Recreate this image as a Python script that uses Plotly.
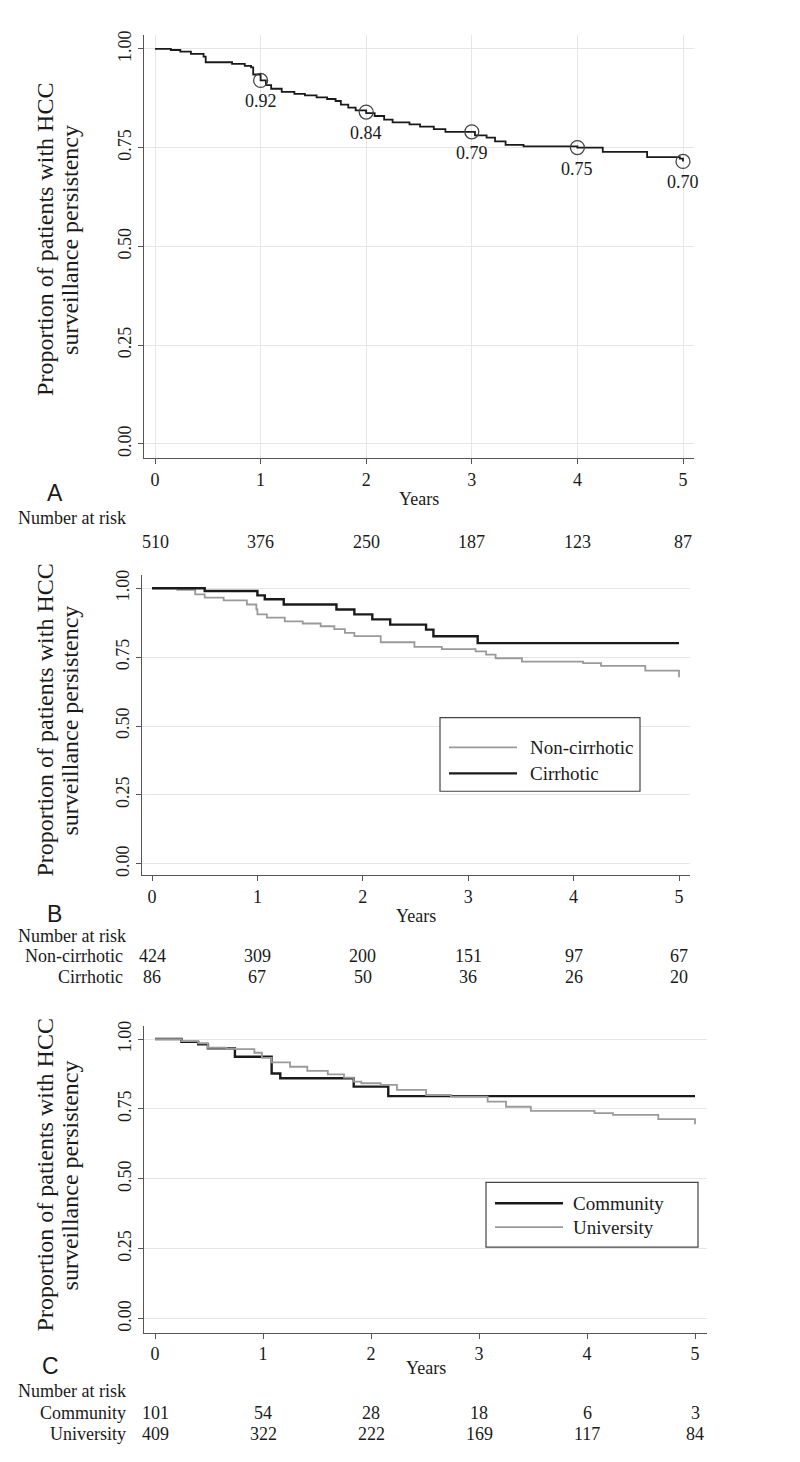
import plotly.graph_objects as go

W, H = 800, 1462

# ---------------- data ----------------
years = [0, 1, 2, 3, 4, 5]
year_labels = ["0", "1", "2", "3", "4", "5"]
y_ticks = [0, 0.25, 0.5, 0.75, 1.0]
y_tick_labels = ["0.00", "0.25", "0.50", "0.75", "1.00"]

# Panel A: overall KM
a_time = [0, 0.15, 0.24, 0.34, 0.46, 0.48, 0.73, 0.85, 0.91, 0.93, 1.00, 1.05, 1.10, 1.20, 1.32,
          1.42, 1.53, 1.63, 1.71, 1.76, 1.83, 1.90, 2.00, 2.08, 2.17, 2.25, 2.41, 2.51, 2.64,
          2.75, 3.03, 3.14, 3.22, 3.32, 3.49, 4.00, 4.24, 4.66, 4.97, 5.00]
a_surv = [1.0, 0.997, 0.993, 0.987, 0.980, 0.966, 0.962, 0.957, 0.953, 0.935, 0.920, 0.908, 0.899,
          0.891, 0.886, 0.882, 0.877, 0.873, 0.868, 0.859, 0.851, 0.844, 0.837, 0.830, 0.821,
          0.814, 0.809, 0.803, 0.797, 0.790, 0.781, 0.775, 0.766, 0.757, 0.753, 0.750, 0.739,
          0.726, 0.722, 0.715]
a_mark_time = [1, 2, 3, 4, 5]
a_mark_surv = [0.92, 0.84, 0.79, 0.75, 0.715]
a_mark_labels = ["0.92", "0.84", "0.79", "0.75", "0.70"]
a_risk = [510, 376, 250, 187, 123, 87]

# Panel B: cirrhosis
b_nc_time = [0, 0.24, 0.41, 0.50, 0.68, 0.90, 0.99, 1.00, 1.09, 1.26, 1.43, 1.60, 1.73, 1.83, 1.92,
             2.17, 2.49, 2.75, 3.07, 3.17, 3.26, 3.51, 4.09, 4.26, 4.68, 5.0]
b_nc_surv = [1.0, 0.994, 0.978, 0.966, 0.956, 0.941, 0.923, 0.905, 0.893, 0.880, 0.872, 0.862,
             0.852, 0.838, 0.826, 0.804, 0.787, 0.779, 0.771, 0.759, 0.746, 0.734, 0.728, 0.718,
             0.701, 0.677]
b_c_time = [0, 0.50, 1.00, 1.07, 1.25, 1.75, 1.92, 2.09, 2.26, 2.60, 2.67, 3.09, 5.0]
b_c_surv = [1.0, 0.990, 0.974, 0.960, 0.941, 0.923, 0.905, 0.887, 0.868, 0.850, 0.826, 0.801, 0.801]
b_names = ["Non-cirrhotic", "Cirrhotic"]
b_risk_nc = [424, 309, 200, 151, 97, 67]
b_risk_c = [86, 67, 50, 36, 26, 20]

# Panel C: site
c_com_time = [0, 0.245, 0.40, 0.49, 0.74, 1.08, 1.16, 1.84, 2.16, 5.0]
c_com_surv = [1.0, 0.990, 0.981, 0.967, 0.937, 0.877, 0.860, 0.830, 0.796, 0.796]
c_uni_time = [0, 0.245, 0.40, 0.49, 0.66, 0.74, 0.92, 0.99, 1.08, 1.25, 1.41, 1.60, 1.75, 1.84,
              1.91, 2.09, 2.24, 2.51, 2.74, 3.08, 3.25, 3.48, 4.07, 4.24, 4.66, 5.0]
c_uni_surv = [1.0, 0.993, 0.985, 0.969, 0.967, 0.964, 0.951, 0.933, 0.917, 0.901, 0.886, 0.874,
              0.862, 0.848, 0.842, 0.836, 0.818, 0.800, 0.794, 0.776, 0.758, 0.743, 0.735, 0.729,
              0.714, 0.695]
c_names = ["Community", "University"]
c_risk_com = [101, 54, 28, 18, 6, 3]
c_risk_uni = [409, 322, 222, 169, 117, 84]

y_title_lines = ["Proportion of patients with HCC", "surveillance persistency"]

# ---------------- styling helpers ----------------
SERIF = "Liberation Serif"
SANS = "Liberation Sans"
TXT = "#1a1a1a"
AXC = "#555555"
GRID = "#e6e6e6"
BLACK = "#1a1a1a"
GRAY = "#9a9a9a"
FS = 18


def px_x(px):
    return px / W


def px_y(py):
    return 1 - py / H


# panel geometry (pixels): left, right, top, bottom of axes; data anchor pixels
panels = {
    "A": dict(l=136, r=686, t=22, b=447, x0=147, x5=675, y1=36, y0=433, tc=228),
    "B": dict(l=134, r=682, t=565, b=866, x0=144, x5=671, y1=578, y0=855, tc=711),
    "C": dict(l=136, r=699, t=1018, b=1326, x0=147, x5=687, y1=1031, y0=1312, tc=1168),
}

fig = go.Figure()

layout_axes = {}
for i, key in enumerate(["A", "B", "C"]):
    p = panels[key]
    sx = (p["x5"] - p["x0"]) / 5.0
    sy = (p["y0"] - p["y1"]) / 1.0
    xr = [(p["l"] - p["x0"]) / sx, (p["r"] - p["x0"]) / sx]
    yr = [-(p["b"] - p["y0"]) / sy, 1 + (p["y1"] - p["t"]) / sy]
    sfx = "" if i == 0 else str(i + 1)
    layout_axes["xaxis" + sfx] = dict(
        domain=[px_x(p["l"]), px_x(p["r"])], range=xr, anchor="y" + sfx,
        tickvals=years, ticktext=year_labels, ticks="outside", ticklen=5, tickwidth=1.2,
        tickcolor=AXC, showline=True, linecolor=AXC, linewidth=1.3, zeroline=False,
        showgrid=(key == "A"), gridcolor=GRID, gridwidth=1,
        tickfont=dict(family=SERIF, size=FS, color=TXT), fixedrange=True,
    )
    layout_axes["yaxis" + sfx] = dict(
        domain=[px_y(p["b"]), px_y(p["t"])], range=yr, anchor="x" + sfx,
        tickvals=y_ticks, ticktext=y_tick_labels, tickangle=-90, ticks="outside", ticklen=5,
        tickwidth=1.2, tickcolor=AXC, showline=True, linecolor=AXC, linewidth=1.3,
        zeroline=False, showgrid=True, gridcolor=GRID, gridwidth=1,
        tickfont=dict(family=SERIF, size=FS, color=TXT), fixedrange=True,
    )

# ---------------- traces ----------------
fig.add_trace(go.Scatter(x=a_time, y=a_surv, mode="lines", line=dict(color=BLACK, width=1.8, shape="hv"),
                         xaxis="x", yaxis="y", showlegend=False))
fig.add_trace(go.Scatter(x=a_mark_time, y=a_mark_surv, mode="markers",
                         marker=dict(symbol="circle-open", size=14, color="#444444", line=dict(width=1.3)),
                         xaxis="x", yaxis="y", showlegend=False))

fig.add_trace(go.Scatter(x=b_nc_time, y=b_nc_surv, mode="lines", line=dict(color=GRAY, width=1.8, shape="hv"),
                         xaxis="x2", yaxis="y2", showlegend=False))
fig.add_trace(go.Scatter(x=b_c_time, y=b_c_surv, mode="lines", line=dict(color=BLACK, width=2.4, shape="hv"),
                         xaxis="x2", yaxis="y2", showlegend=False))

fig.add_trace(go.Scatter(x=c_com_time, y=c_com_surv, mode="lines", line=dict(color=BLACK, width=2.4, shape="hv"),
                         xaxis="x3", yaxis="y3", showlegend=False))
fig.add_trace(go.Scatter(x=c_uni_time, y=c_uni_surv, mode="lines", line=dict(color=GRAY, width=1.8, shape="hv"),
                         xaxis="x3", yaxis="y3", showlegend=False))

# ---------------- annotations ----------------
ann = []
shapes = []


def text_px(x, y, text, size=FS, family=SERIF, xanchor="center", angle=0):
    ann.append(dict(x=px_x(x), y=px_y(y), xref="paper", yref="paper", text=text, showarrow=False,
                    xanchor=xanchor, yanchor="middle", textangle=angle,
                    font=dict(family=family, size=size, color=TXT)))


# circle value labels (panel A)
for t, s, lab in zip(a_mark_time, a_mark_surv, a_mark_labels):
    ann.append(dict(x=t, y=s, xref="x", yref="y", text=lab, showarrow=False, yshift=-21,
                    font=dict(family=SERIF, size=FS, color=TXT)))

# y-axis titles (two lines each)
for key in ["A", "B", "C"]:
    p = panels[key]
    text_px(37, p["tc"], y_title_lines[0], size=24, angle=-90)
    text_px(62, p["tc"], y_title_lines[1], size=24, angle=-90)

# x titles, letters, number-at-risk
text_px(411, 488, "Years")
text_px(408, 907, "Years")
text_px(418, 1362, "Years")
text_px(47, 482, "A", size=23, family=SANS)
text_px(46, 905, "B", size=23, family=SANS)
text_px(42, 1360, "C", size=23, family=SANS)
text_px(8, 507, "Number at risk", xanchor="left")
text_px(8, 927, "Number at risk", xanchor="left")
text_px(8, 1385, "Number at risk", xanchor="left")


def risk_row(xref, vals, ypx):
    for t, v in zip(years, vals):
        ann.append(dict(x=t, y=px_y(ypx), xref=xref, yref="paper", text=str(v), showarrow=False,
                        yanchor="middle", font=dict(family=SERIF, size=FS, color=TXT)))


risk_row("x", a_risk, 532)
text_px(117, 948, b_names[0], xanchor="right")
text_px(117, 969, b_names[1], xanchor="right")
risk_row("x2", b_risk_nc, 948)
risk_row("x2", b_risk_c, 969)
text_px(120, 1407, c_names[0], xanchor="right")
text_px(120, 1428, c_names[1], xanchor="right")
risk_row("x3", c_risk_com, 1407)
risk_row("x3", c_risk_uni, 1428)


# legends (drawn as boxes)
def legend_box(x0, x1, y0, y1, items):
    shapes.append(dict(type="rect", xref="paper", yref="paper", x0=px_x(x0), x1=px_x(x1),
                       y0=px_y(y1), y1=px_y(y0), line=dict(color="#444444", width=1.2),
                       fillcolor="white", layer="above"))
    for (name, color, width, ly, lx0, lx1, tx) in items:
        shapes.append(dict(type="line", xref="paper", yref="paper", x0=px_x(lx0), x1=px_x(lx1),
                           y0=px_y(ly), y1=px_y(ly), line=dict(color=color, width=width), layer="above"))
        text_px(tx, ly, name, size=19, xanchor="left")


legend_box(432, 632, 708, 782, [
    (b_names[0], GRAY, 1.8, 738, 441, 509, 520),
    (b_names[1], BLACK, 2.4, 764, 441, 509, 520),
])
legend_box(478, 690, 1175, 1240, [
    (c_names[0], BLACK, 2.4, 1196, 487, 555, 563),
    (c_names[1], GRAY, 1.8, 1220, 487, 555, 563),
])

fig.update_layout(
    width=W, height=H, margin=dict(l=0, r=0, t=0, b=0),
    paper_bgcolor="white", plot_bgcolor="white",
    annotations=ann, shapes=shapes, showlegend=False,
    **layout_axes,
)

fig.write_html("out.html")
